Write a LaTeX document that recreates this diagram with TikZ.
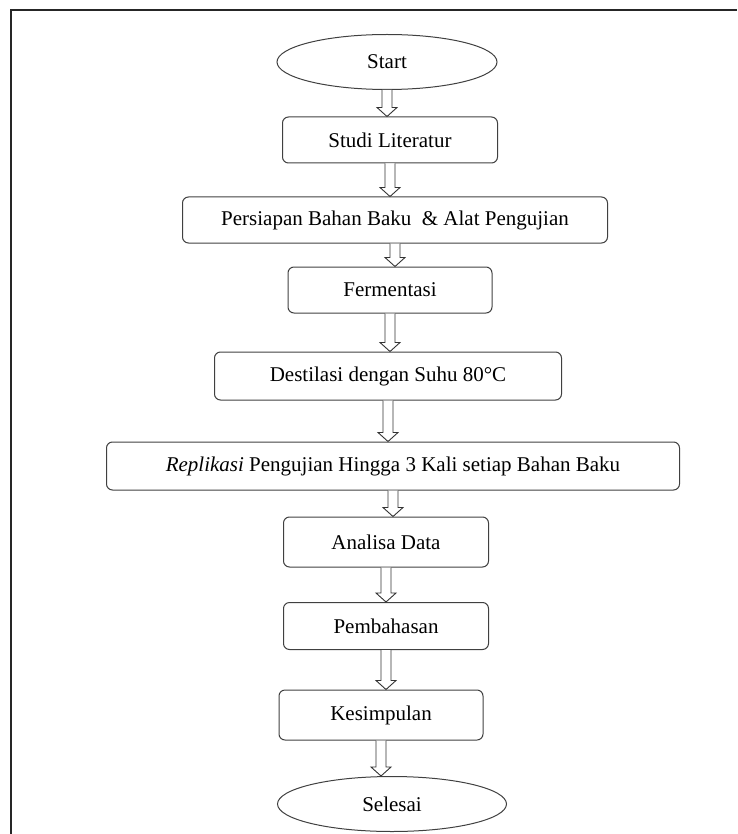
\documentclass[tikz,border=0pt]{standalone}
\usepackage{fontspec}
\setmainfont{Liberation Serif}
\usetikzlibrary{shapes.geometric,calc}
\tikzset{
  kotak/.style={draw=black!75, line width=1pt, rounded corners=6pt, align=center, inner sep=2pt},
  oval/.style={draw=black!75, line width=1pt, ellipse, inner sep=0pt},
  panah/.style={draw=black!80, line width=0.9pt, fill=white, line join=miter}
}
\begin{document}
\begin{tikzpicture}[x=1pt, y=-1pt, font=\fontsize{21}{25}\selectfont]
\useasboundingbox (0,0) rectangle (737,834);
% bingkai
\draw[line width=2.6pt, black!85] (11,834) -- (11,10) -- (737,10);
% langkah
\node[oval, minimum width=220pt, minimum height=55pt] (start) at (387,62) {Start};
\node[kotak, minimum width=215pt, minimum height=46pt] (studi) at (390,140) {Studi Literatur};
\node[kotak, minimum width=425pt, minimum height=46pt] (persiapan) at (395,220) {Persiapan Bahan Baku\ \ \& Alat Pengujian};
\node[kotak, minimum width=204pt, minimum height=46pt] (fermentasi) at (390,290) {Fermentasi};
\node[kotak, minimum width=347pt, minimum height=48pt] (destilasi) at (388,376) {Destilasi dengan Suhu 80°C};
\node[kotak, minimum width=573pt, minimum height=48pt] (replikasi) at (393,466) {\textit{Replikasi} Pengujian Hingga 3 Kali setiap Bahan Baku};
\node[kotak, minimum width=205pt, minimum height=50pt] (analisa) at (386,542) {Analisa Data};
\node[kotak, minimum width=205pt, minimum height=47pt] (pembahasan) at (386,626) {Pembahasan};
\node[kotak, minimum width=204pt, minimum height=50pt] (kesimpulan) at (381,715) {Kesimpulan};
\node[oval, minimum width=229pt, minimum height=55pt] (selesai) at (392,804) {Selesai};
% panah
\foreach \a/\b in {start/studi, studi/persiapan, persiapan/fermentasi, fermentasi/destilasi,
  destilasi/replikasi, replikasi/analisa, analisa/pembahasan, pembahasan/kesimpulan, kesimpulan/selesai}
  \draw[panah] let \p1=(\a.south), \p2=(\b.north) in
    (\x1-5pt,\y1) -- (\x1-5pt,\y2+9pt) -- (\x1-10pt,\y2+9pt) -- (\x1,\y2)
    -- (\x1+10pt,\y2+9pt) -- (\x1+5pt,\y2+9pt) -- (\x1+5pt,\y1);
\end{tikzpicture}
\end{document}
